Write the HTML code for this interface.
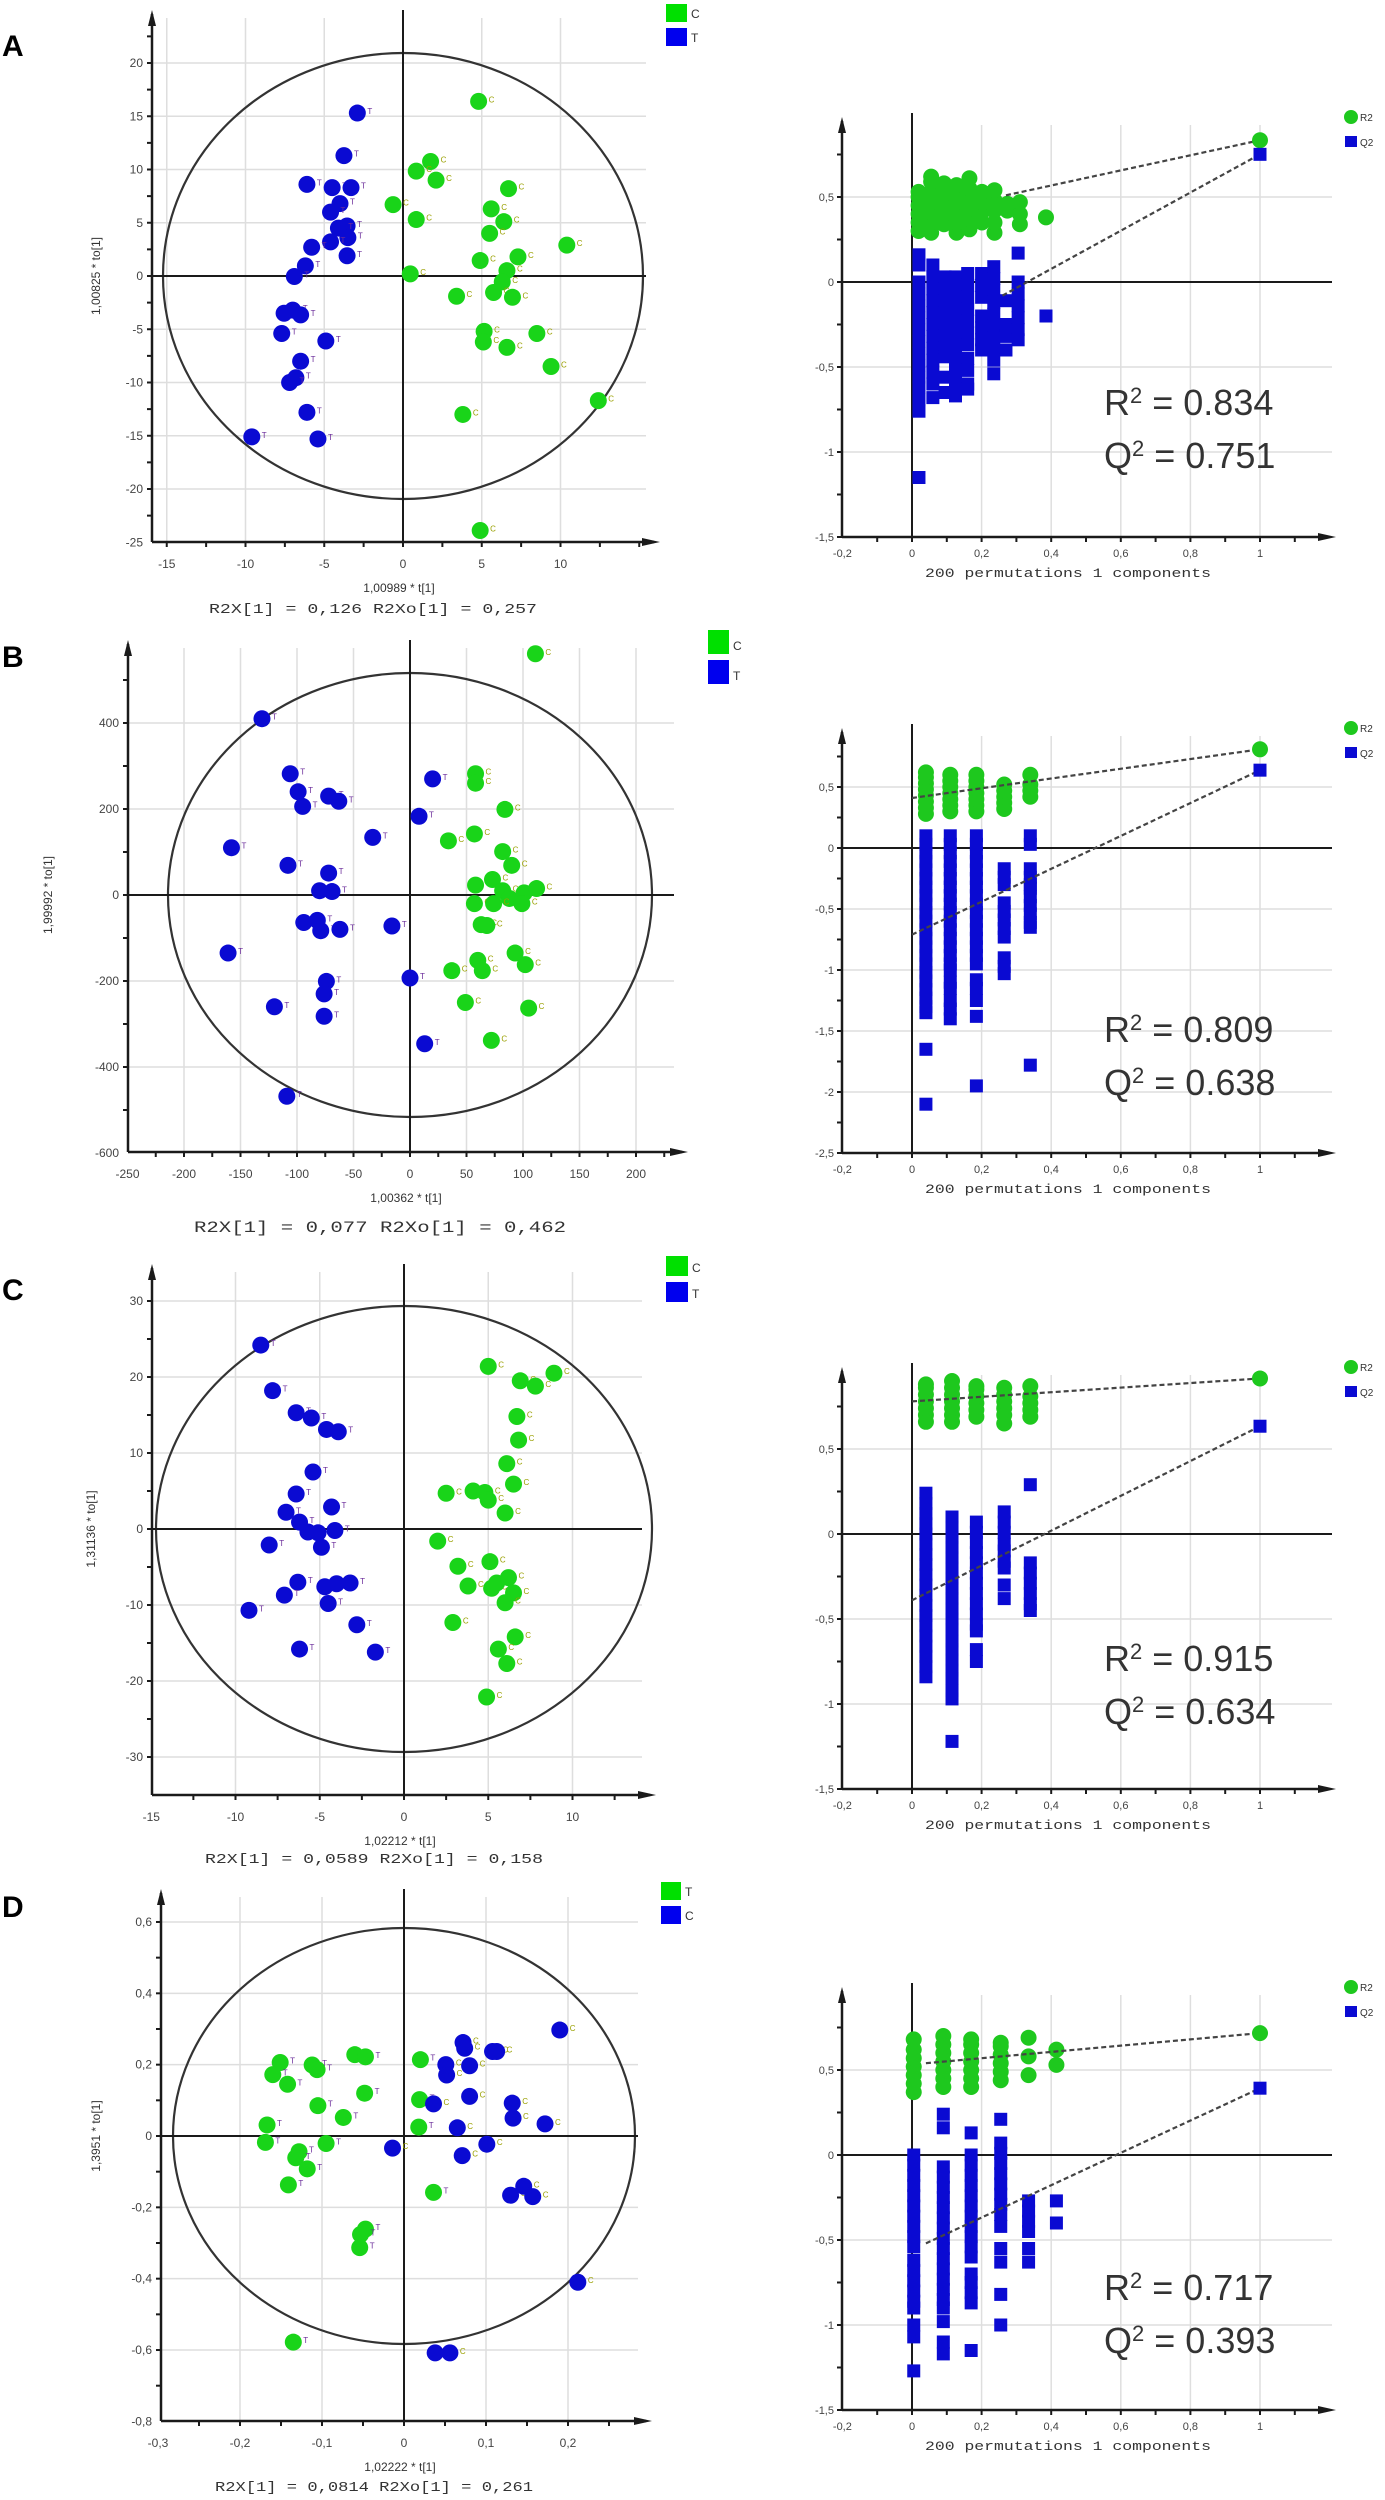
<!DOCTYPE html>
<html><head><meta charset="utf-8"><title>OPLS-DA score plots and permutation tests</title>
<style>
html,body{margin:0;padding:0;background:#fff;}
svg{display:block;font-family:"Liberation Sans",sans-serif;}
</style></head>
<body>
<svg id="fig" width="1385" height="2500" viewBox="0 0 1385 2500" xmlns="http://www.w3.org/2000/svg"></svg>
<script>
// ---------- Panel A score data ----------
const aGreenX=[4.8,1.75,0.84,2.1,-0.63,0.84,6.7,5.6,6.4,5.5,10.4,4.9,7.3,6.6,0.46,6.3,3.4,5.75,6.95,5.15,5.1,8.5,6.6,9.4,12.4,3.8,4.9];
const aGreenY=[16.4,10.75,9.85,9.0,6.7,5.3,8.2,6.3,5.1,4.0,2.9,1.45,1.8,0.5,0.2,-0.55,-1.9,-1.55,-2.0,-5.2,-6.2,-5.4,-6.7,-8.5,-11.7,-13.0,-23.9];
const aBlueX=[-2.9,-3.75,-6.1,-4.5,-3.3,-4.0,-4.6,-3.55,-4.1,-3.5,-4.6,-5.8,-3.55,-6.2,-6.9,-7.55,-7.0,-6.5,-7.7,-4.9,-6.5,-6.8,-7.2,-6.1,-9.6,-5.4];
const aBlueY=[15.3,11.3,8.6,8.3,8.3,6.8,6.0,4.7,4.5,3.6,3.2,2.7,1.9,0.95,-0.05,-3.5,-3.2,-3.65,-5.4,-6.1,-8.0,-9.55,-10.0,-12.8,-15.1,-15.3];
const aXTicks=[-15,-10,-5,0,5,10];
const aYTicks=[-25,-20,-15,-10,-5,0,5,10,15,20];
// ---------- Panel B score data ----------
const bBlueX=[-131,-106,-99,-95,-72,-63,-158,-108,-72,-80,-69,-33,8,20,-94,-82,-79,-62,-16,-161,0,-74,-76,-120,-76,13,-109];
const bBlueY=[410,282,240,206,230,218,110,69,51,10,8,134,183,270,-64,-59,-83,-80,-72,-135,-193,-201,-230,-260,-282,-346,-468];
const bGreenX=[111,58,58,84,57,34,82,90,58,73,82,88,101,112,57,74,99,63,68,60,93,102,64,37,49,105,72];
const bGreenY=[561,282,260,199,142,126,101,69,23,36,10,-8,5,15,-20,-20,-20,-69,-71,-152,-135,-162,-176,-176,-250,-263,-338];
const bXTicks=[-250,-200,-150,-100,-50,0,50,100,150,200];
const bYTicks=[-600,-400,-200,0,200,400];
// ---------- Panel C score data ----------
const cBlueX=[-8.5,-7.8,-6.4,-5.5,-4.6,-3.9,-5.4,-6.4,-4.3,-7.0,-6.2,-5.7,-5.1,-4.1,-8.0,-4.9,-6.3,-4.7,-4.0,-3.2,-7.1,-4.5,-9.2,-2.8,-6.2,-1.7];
const cBlueY=[24.2,18.2,15.3,14.6,13.1,12.8,7.5,4.6,2.9,2.2,0.9,-0.4,-0.5,-0.2,-2.1,-2.4,-7.0,-7.6,-7.2,-7.1,-8.7,-9.8,-10.7,-12.6,-15.8,-16.2];
const cGreenX=[5.0,8.9,6.9,7.8,6.7,6.8,6.1,6.5,2.5,4.1,4.8,5.0,6.0,2.0,3.2,5.1,3.8,5.2,5.5,6.2,6.5,6.0,2.9,6.6,5.6,6.1,4.9];
const cGreenY=[21.4,20.5,19.5,18.8,14.8,11.7,8.6,5.9,4.7,5.0,4.8,3.8,2.1,-1.6,-4.9,-4.3,-7.5,-7.8,-7.1,-6.4,-8.4,-9.7,-12.3,-14.2,-15.8,-17.7,-22.1];
const cXTicks=[-15,-10,-5,0,5,10];
const cYTicks=[-30,-20,-10,0,10,20,30];
// ---------- Panel D score data ----------
const dGreenX=[-0.151,-0.160,-0.142,-0.112,-0.106,-0.060,-0.047,0.020,-0.048,-0.105,-0.074,0.019,-0.167,0.018,-0.169,-0.095,-0.128,-0.132,-0.118,-0.141,0.036,-0.047,-0.053,-0.054,-0.135];
const dGreenY=[0.206,0.172,0.145,0.199,0.186,0.228,0.222,0.214,0.120,0.085,0.052,0.102,0.031,0.025,-0.018,-0.021,-0.044,-0.061,-0.092,-0.137,-0.158,-0.261,-0.276,-0.313,-0.578];
const dBlueX=[0.190,0.072,0.074,0.108,0.113,0.051,0.052,0.080,0.080,0.036,0.132,0.133,0.172,0.065,-0.014,0.101,0.071,0.130,0.146,0.157,0.212,0.038,0.056];
const dBlueY=[0.297,0.262,0.246,0.237,0.237,0.200,0.171,0.197,0.111,0.090,0.092,0.050,0.034,0.023,-0.034,-0.023,-0.055,-0.166,-0.141,-0.170,-0.410,-0.608,-0.608];
const dXTicks=[-0.3,-0.2,-0.1,0,0.1,0.2];
const dYTicks=[-0.8,-0.6,-0.4,-0.2,0,0.2,0.4,0.6];

// ---------- Permutation data ----------
const permXTicks=[-0.2,0,0.2,0.4,0.6,0.8,1];
const aPermR2Cols=[0.019,0.055,0.092,0.128,0.165,0.201,0.237,0.274,0.31,0.385];
const aPermR2Vals=[[0.30,0.35,0.40,0.45,0.50,0.53],[0.29,0.35,0.41,0.47,0.53,0.59,0.62],[0.34,0.40,0.46,0.52,0.58],[0.29,0.35,0.41,0.47,0.53,0.57],[0.31,0.37,0.43,0.49,0.55,0.61],[0.35,0.41,0.47,0.53],[0.29,0.35,0.42,0.48,0.54],[0.42,0.46],[0.34,0.40,0.47],[0.38]];
const aPermQ2Cols=[0.02,0.06,0.095,0.125,0.16,0.2,0.235,0.27,0.305,0.385];
const aPermQ2Vals=[[0.16,0.1,0,-0.07,-0.14,-0.21,-0.28,-0.35,-0.42,-0.49,-0.56,-0.62,-0.69,-0.76,-1.15],[0.1,0.03,-0.04,-0.11,-0.18,-0.25,-0.32,-0.39,-0.46,-0.53,-0.6,-0.68],[0.03,-0.04,-0.11,-0.18,-0.25,-0.32,-0.39,-0.44,-0.56,-0.65],[0.03,-0.04,-0.11,-0.18,-0.25,-0.32,-0.39,-0.46,-0.53,-0.6,-0.67],[0.05,-0.02,-0.09,-0.16,-0.23,-0.3,-0.37,-0.45,-0.52,-0.6,-0.63],[0.05,-0.02,-0.09,-0.2,-0.27,-0.34,-0.4],[0.09,0.02,-0.05,-0.12,-0.19,-0.26,-0.33,-0.4,-0.46,-0.54],[-0.11,-0.25,-0.32,-0.4],[0.17,0,-0.07,-0.14,-0.21,-0.28,-0.34],[-0.2]];
const aOrig=[0.834,0.751];
const aLineR2=[0.27,0.51];
const aLineQ2=[0.26,-0.08];
const aYTicksP=[-1.5,-1,-0.5,0,0.5];

const bPermCols=[0.04,0.11,0.185,0.265,0.34];
const bPermR2Vals=[[0.28,0.33,0.38,0.43,0.48,0.53,0.58,0.62],[0.3,0.35,0.4,0.45,0.5,0.55,0.6],[0.3,0.35,0.4,0.45,0.5,0.55,0.6],[0.32,0.37,0.42,0.47,0.52],[0.42,0.47,0.52,0.6]];
const bPermQ2Vals=[[0.1,0.03,-0.04,-0.11,-0.18,-0.25,-0.32,-0.39,-0.46,-0.53,-0.6,-0.67,-0.74,-0.81,-0.88,-0.95,-1.02,-1.09,-1.16,-1.23,-1.3,-1.35,-1.65,-2.1],[0.1,0.03,-0.04,-0.11,-0.18,-0.25,-0.32,-0.39,-0.46,-0.53,-0.6,-0.67,-0.74,-0.81,-0.88,-0.95,-1.0,-1.1,-1.15,-1.25,-1.32,-1.4],[0.1,0.03,-0.04,-0.11,-0.18,-0.25,-0.32,-0.39,-0.46,-0.53,-0.6,-0.67,-0.74,-0.81,-0.88,-0.95,-1.08,-1.15,-1.25,-1.38,-1.95],[-0.17,-0.24,-0.3,-0.45,-0.52,-0.59,-0.66,-0.73,-0.9,-0.97,-1.03],[0.1,0.03,-0.17,-0.24,-0.3,-0.33,-0.4,-0.47,-0.54,-0.61,-0.65,-1.78]];
const bOrig=[0.809,0.638];
const bLineR2=[0,0.41];
const bLineQ2=[0,-0.71];
const bYTicksP=[-2.5,-2,-1.5,-1,-0.5,0,0.5];

const cPermCols=[0.04,0.115,0.185,0.265,0.34];
const cPermR2Vals=[[0.66,0.7,0.74,0.78,0.82,0.86,0.88],[0.66,0.7,0.74,0.78,0.82,0.86,0.9],[0.69,0.73,0.77,0.81,0.85,0.87],[0.65,0.7,0.74,0.78,0.82,0.86],[0.69,0.73,0.77,0.81,0.87]];
const cPermQ2Vals=[[0.24,0.18,0.12,0.06,0,-0.06,-0.12,-0.18,-0.24,-0.3,-0.36,-0.42,-0.48,-0.54,-0.6,-0.66,-0.72,-0.78,-0.84],[0.1,0.04,-0.02,-0.08,-0.14,-0.2,-0.26,-0.32,-0.38,-0.44,-0.5,-0.56,-0.63,-0.68,-0.74,-0.8,-0.85,-0.92,-0.97,-1.22],[0.07,0.01,-0.05,-0.11,-0.17,-0.23,-0.29,-0.35,-0.41,-0.47,-0.53,-0.57,-0.68,-0.75],[0.13,0.07,0.01,-0.06,-0.1,-0.16,-0.2,-0.3,-0.38],[0.29,-0.17,-0.23,-0.29,-0.35,-0.41,-0.45]];
const cOrig=[0.915,0.634];
const cLineR2=[0,0.78];
const cLineQ2=[0,-0.39];
const cYTicksP=[-1.5,-1,-0.5,0,0.5];

const dPermCols=[0.005,0.09,0.17,0.255,0.335,0.415];
const dPermR2Vals=[[0.37,0.42,0.47,0.52,0.57,0.62,0.68],[0.4,0.45,0.5,0.55,0.6,0.65,0.7],[0.4,0.45,0.5,0.55,0.6,0.65,0.68],[0.44,0.49,0.54,0.59,0.64,0.66],[0.47,0.58,0.69],[0.53,0.62]];
const dPermQ2Vals=[[0,-0.06,-0.12,-0.18,-0.24,-0.3,-0.36,-0.42,-0.48,-0.54,-0.62,-0.68,-0.74,-0.8,-0.86,-0.9,-1.0,-1.07,-1.27],[0.24,0.16,-0.07,-0.13,-0.19,-0.25,-0.31,-0.37,-0.43,-0.49,-0.55,-0.61,-0.67,-0.73,-0.79,-0.85,-0.9,-0.98,-1.1,-1.17],[0.13,0,-0.06,-0.12,-0.18,-0.24,-0.3,-0.36,-0.42,-0.48,-0.54,-0.6,-0.7,-0.75,-0.81,-0.87,-1.15],[0.21,0.07,0.01,-0.05,-0.11,-0.17,-0.23,-0.29,-0.35,-0.42,-0.55,-0.63,-0.82,-1.0],[-0.27,-0.33,-0.39,-0.45,-0.55,-0.63],[-0.27,-0.4]];
const dOrig=[0.717,0.393];
const dLineR2=[0.04,0.54];
const dLineQ2=[0.04,-0.52];
const dYTicksP=[-1.5,-1,-0.5,0,0.5];

const NS="http://www.w3.org/2000/svg";
const svg=document.getElementById('fig');
function mk(tag,attrs,parent){const e=document.createElementNS(NS,tag);for(const k in attrs)e.setAttribute(k,attrs[k]);(parent||svg).appendChild(e);return e;}
function fmt(v){let s=(Math.round(v*100)/100).toString();return s.replace('.',',');}
const GREEN="#19d419",BLUE="#0a0ad2",GRID="#dedede",AX="#1a1a1a";

function scorePanel(p){
  const g=mk('g',{});
  
  
  const sx=v=>p.x0+v*p.xs, sy=v=>p.y0-v*p.ys;
  const right=p.right-14;
  // grid
  p.xt.forEach(t=>{if(Math.abs(t)<1e-9)return;const x=sx(t);if(x<=p.ax+2)return;
    const l=mk('line',{x1:x,y1:p.top+8,x2:x,y2:p.bot,stroke:GRID,'stroke-width':1.5},g);
    
    });
  p.yt.forEach(t=>{if(Math.abs(t)<1e-9)return;const y=sy(t);if(y>=p.bot-2)return;
    const l=mk('line',{x1:p.ax,y1:y,x2:right,y2:y,stroke:GRID,'stroke-width':1.5},g);
    
    });
  // ellipse
  const el=mk('ellipse',{cx:p.x0,cy:p.y0,rx:p.rx,ry:p.ry,fill:'none',stroke:'#333','stroke-width':2.2},g);
  
  
  // zero lines
  const zv=mk('line',{x1:p.x0,y1:p.top,x2:p.x0,y2:p.bot,stroke:AX,'stroke-width':2},g);
  
  
  const zh=mk('line',{x1:p.ax,y1:p.y0,x2:right,y2:p.y0,stroke:AX,'stroke-width':2},g);
  
  
  // axes
  const ya=mk('line',{x1:p.ax,y1:p.top+4,x2:p.ax,y2:p.bot,stroke:AX,'stroke-width':2.5},g);
  
  
  mk('polygon',{points:`${p.ax-4},${p.top+16} ${p.ax+4},${p.top+16} ${p.ax},${p.top}`,fill:AX},g);
  const xa=mk('line',{x1:p.ax,y1:p.bot,x2:p.right-6,y2:p.bot,stroke:AX,'stroke-width':2.5},g);
  
  
  mk('polygon',{points:`${p.right-18},${p.bot-4} ${p.right-18},${p.bot+4} ${p.right},${p.bot}`,fill:AX},g);
  // ticks
  const xstep=p.xt[1]-p.xt[0], ystep=p.yt[1]-p.yt[0];
  for(let v=p.xt[0]-xstep;v<=p.xt[p.xt.length-1]+xstep;v+=xstep/2){const x=sx(v);if(x<p.ax+2||x>p.right-20)continue;
    mk('line',{x1:x,y1:p.bot,x2:x,y2:p.bot+5,stroke:AX,'stroke-width':2},g);}
  for(let v=p.yt[0];v<=p.yt[p.yt.length-1]+ystep;v+=ystep/2){const y=sy(v);if(y<p.top+18||y>p.bot)continue;
    mk('line',{x1:p.ax-5,y1:y,x2:p.ax,y2:y,stroke:AX,'stroke-width':2},g);}
  p.xt.forEach(t=>{const x=sx(t);if(x<p.ax-10)return;
    const tx=mk('text',{x:x,y:p.bot+26,'font-size':12,'text-anchor':'middle',fill:'#444'},g);tx.textContent=fmt(t);
    
    });
  p.yt.forEach(t=>{const y=sy(t);if(y<p.top+10)return;
    const tx=mk('text',{x:p.ax-9,y:y+4,'font-size':12,'text-anchor':'end',fill:'#444'},g);tx.textContent=fmt(t);
    
    });
  // points
  const draw=(xs,ys,col,lab,nm)=>{xs.forEach((v,i)=>{const cx=sx(v),cy=sy(ys[i]);
    const c=mk('circle',{cx:cx,cy:cy,r:8.5,fill:col},g);
    
    
    const t=mk('text',{x:cx+10,y:cy+1,'font-size':8,fill:lab==='T'?'#6a2c9a':'#9aa000'},g);t.textContent=lab;});};
  draw(p.gx,p.gy,GREEN,p.gl,'score-point-green');
  draw(p.bx,p.by,BLUE,p.bl,'score-point-blue');
  // titles
  const yt=mk('text',{x:p.ylx,y:p.y0,'font-size':12,'text-anchor':'middle',fill:'#333',transform:`rotate(-90 ${p.ylx} ${p.y0})`},g);
  yt.textContent=p.ytitle;
  
  
  const xt=mk('text',{x:p.x0-4,y:p.bot+50,'font-size':12,'text-anchor':'middle',fill:'#333'},g);
  xt.textContent=p.xtitle;
  
  
  const r2=mk('text',{x:p.x0-30,y:p.bot+p.r2dy,'font-size':p.r2fs,'text-anchor':'middle','font-family':'Liberation Mono, monospace',fill:'#333',textLength:p.r2w,lengthAdjust:'spacingAndGlyphs'},g);
  r2.textContent=p.r2text;
  
  
  // legend
  const lg=mk('g',{},g);
  
  
  mk('rect',{x:p.lx,y:p.ly,width:p.lw,height:p.lh,fill:p.l1c},lg);
  mk('rect',{x:p.lx,y:p.ly+p.lh+6,width:p.lw,height:p.lh,fill:p.l2c},lg);
  const t1=mk('text',{x:p.lx+p.lw+4,y:p.ly+p.lh-4,'font-size':12,fill:'#333'},lg);t1.textContent=p.l1;
  const t2=mk('text',{x:p.lx+p.lw+4,y:p.ly+2*p.lh+2,'font-size':12,fill:'#333'},lg);t2.textContent=p.l2;
  // panel letter
  const L=mk('text',{x:2,y:p.letterY,'font-size':30,'font-weight':'bold',fill:'#000'},g);
  L.textContent=p.letter;
  
  
}

function permPanel(p){
  const g=mk('g',{});
  
  
  const X0=912, XS=348, AXX=842, RIGHT=1332;
  const sx=v=>X0+v*XS, sy=v=>p.y0-v*p.ys;
  const bot=sy(p.yt[0]);
  [0.2,0.4,0.6,0.8,1].forEach(t=>{const l=mk('line',{x1:sx(t),y1:p.top+8,x2:sx(t),y2:bot,stroke:GRID,'stroke-width':1.5},g);
    
    });
  p.yt.forEach(t=>{if(t===0||t===p.yt[0])return;const l=mk('line',{x1:AXX,y1:sy(t),x2:RIGHT,y2:sy(t),stroke:GRID,'stroke-width':1.5},g);
    
    });
  const zv=mk('line',{x1:sx(0),y1:p.top-4,x2:sx(0),y2:bot,stroke:AX,'stroke-width':2},g);
  
  
  const zh=mk('line',{x1:AXX,y1:sy(0),x2:RIGHT,y2:sy(0),stroke:AX,'stroke-width':2},g);
  
  
  // Q2 squares
  const sq=(x,y,nm)=>{const r=mk('rect',{x:sx(x)-6.5,y:sy(y)-6.5,width:13,height:13,fill:BLUE},g);
    
    };
  p.qc.forEach((x,i)=>p.qv[i].forEach(v=>sq(x,v,'q2-permutation-point')));
  const ci=(x,y,nm)=>{const c=mk('circle',{cx:sx(x),cy:sy(y),r:8,fill:'#1ec81e'},g);
    
    };
  p.rc.forEach((x,i)=>p.rv[i].forEach(v=>ci(x,v,'r2-permutation-point')));
  // regression lines
  const l1=mk('line',{x1:sx(p.lr[0]),y1:sy(p.lr[1]),x2:sx(1),y2:sy(p.orig[0]),stroke:'#444','stroke-width':2.2,'stroke-dasharray':'5,3'},g);
  
  
  const l2=mk('line',{x1:sx(p.lq[0]),y1:sy(p.lq[1]),x2:sx(1),y2:sy(p.orig[1]),stroke:'#444','stroke-width':2.2,'stroke-dasharray':'5,3'},g);
  
  
  ci(1,p.orig[0],'r2-original-point');
  sq(1,p.orig[1],'q2-original-point');
  // axes
  const ya=mk('line',{x1:AXX,y1:p.top+4,x2:AXX,y2:bot,stroke:AX,'stroke-width':2.5},g);
  
  
  mk('polygon',{points:`${AXX-4},${p.top+16} ${AXX+4},${p.top+16} ${AXX},${p.top}`,fill:AX},g);
  const xa=mk('line',{x1:AXX,y1:bot,x2:1326,y2:bot,stroke:AX,'stroke-width':2.5},g);
  
  
  mk('polygon',{points:`1318,${bot-4} 1318,${bot+4} 1336,${bot}`,fill:AX},g);
  for(let v=-0.1;v<=1.15;v+=0.1){mk('line',{x1:sx(v),y1:bot,x2:sx(v),y2:bot+5,stroke:AX,'stroke-width':2},g);}
  const ys2=(p.yt[1]-p.yt[0])/2;
  for(let v=p.yt[0];v<=1.0;v+=ys2){const y=sy(v);if(y<p.top+18)continue;mk('line',{x1:AXX-5,y1:y,x2:AXX,y2:y,stroke:AX,'stroke-width':2},g);}
  permXTicks.forEach(t=>{const tx=mk('text',{x:sx(t),y:bot+20,'font-size':11,'text-anchor':'middle',fill:'#444'},g);tx.textContent=fmt(t);
    
    });
  p.yt.forEach(t=>{const tx=mk('text',{x:AXX-8,y:sy(t)+4,'font-size':11,'text-anchor':'end',fill:'#444'},g);tx.textContent=fmt(t);
    
    });
  const xt=mk('text',{x:1068,y:bot+40,'font-size':13,'text-anchor':'middle','font-family':'Liberation Mono, monospace',fill:'#333',textLength:286,lengthAdjust:'spacingAndGlyphs'},g);
  xt.textContent='200 permutations 1 components';
  
  
  // stats text
  const st=mk('text',{x:1104,y:p.r2y+13,'font-size':36,fill:'#333'},g);
  st.innerHTML='R<tspan baseline-shift="super" font-size="22">2</tspan> = '+p.r2s;
  
  
  const qt=mk('text',{x:1104,y:p.r2y+66,'font-size':36,fill:'#333'},g);
  qt.innerHTML='Q<tspan baseline-shift="super" font-size="22">2</tspan> = '+p.q2s;
  
  
  // legend
  const lg=mk('g',{},g);
  
  
  mk('circle',{cx:1351,cy:p.top,r:7,fill:'#1ec81e'},lg);
  mk('rect',{x:1345,y:p.top+19,width:12,height:11,fill:BLUE},lg);
  const a=mk('text',{x:1360,y:p.top+4,'font-size':10,fill:'#333'},lg);a.textContent='R2';
  const b=mk('text',{x:1360,y:p.top+29,'font-size':10,fill:'#333'},lg);b.textContent='Q2';
}

scorePanel({name:'panel-a-score-plot',letter:'A',letterY:56,ax:152,x0:403,xs:15.75,y0:276,ys:10.65,top:10,bot:542,right:660,rx:240,ry:223,
  xt:aXTicks,yt:aYTicks,gx:aGreenX,gy:aGreenY,bx:aBlueX,by:aBlueY,gl:'C',bl:'T',ylx:100,
  ytitle:'1,00825 * to[1]',xtitle:'1,00989 * t[1]',r2text:'R2X[1] = 0,126  R2Xo[1] = 0,257',r2dy:71,r2fs:14,r2w:328,
  lx:666,ly:4,lw:21,lh:18,l1:'C',l2:'T',l1c:'#00e000',l2c:'#0000ee'});
scorePanel({name:'panel-b-score-plot',letter:'B',letterY:667,ax:128,x0:410,xs:1.13,y0:895,ys:0.43,top:640,bot:1152,right:688,rx:242,ry:222,
  xt:bXTicks,yt:bYTicks,gx:bGreenX,gy:bGreenY,bx:bBlueX,by:bBlueY,gl:'C',bl:'T',ylx:52,
  ytitle:'1,99992 * to[1]',xtitle:'1,00362 * t[1]',r2text:'R2X[1] = 0,077  R2Xo[1] = 0,462',r2dy:80,r2fs:16,r2w:372,
  lx:708,ly:630,lw:21,lh:24,l1:'C',l2:'T',l1c:'#00e000',l2c:'#0000ee'});
scorePanel({name:'panel-c-score-plot',letter:'C',letterY:1300,ax:152,x0:404,xs:16.85,y0:1529,ys:7.6,top:1264,bot:1795,right:656,rx:248,ry:223,
  xt:cXTicks,yt:cYTicks,gx:cGreenX,gy:cGreenY,bx:cBlueX,by:cBlueY,gl:'C',bl:'T',ylx:95,
  ytitle:'1,31136 * to[1]',xtitle:'1,02212 * t[1]',r2text:'R2X[1] = 0,0589  R2Xo[1] = 0,158',r2dy:68,r2fs:14,r2w:338,
  lx:666,ly:1256,lw:22,lh:20,l1:'C',l2:'T',l1c:'#00e000',l2c:'#0000ee'});
scorePanel({name:'panel-d-score-plot',letter:'D',letterY:1917,ax:161,x0:404,xs:820,y0:2136,ys:356.7,top:1889,bot:2421,right:652,rx:231,ry:208,
  xt:dXTicks,yt:dYTicks,gx:dGreenX,gy:dGreenY,bx:dBlueX,by:dBlueY,gl:'T',bl:'C',ylx:100,
  ytitle:'1,3951 * to[1]',xtitle:'1,02222 * t[1]',r2text:'R2X[1] = 0,0814 R2Xo[1] = 0,261',r2dy:70,r2fs:14,r2w:318,
  lx:661,ly:1882,lw:20,lh:18,l1:'T',l2:'C',l1c:'#00e000',l2c:'#0000ee'});

permPanel({name:'panel-a-permutation-plot',y0:282,ys:170,top:117,yt:aYTicksP,rc:aPermR2Cols,rv:aPermR2Vals,qc:aPermQ2Cols,qv:aPermQ2Vals,orig:aOrig,lr:aLineR2,lq:aLineQ2,r2y:402,r2s:'0.834',q2s:'0.751'});
permPanel({name:'panel-b-permutation-plot',y0:848,ys:122,top:728,yt:bYTicksP,rc:bPermCols,rv:bPermR2Vals,qc:bPermCols,qv:bPermQ2Vals,orig:bOrig,lr:bLineR2,lq:bLineQ2,r2y:1029,r2s:'0.809',q2s:'0.638'});
permPanel({name:'panel-c-permutation-plot',y0:1534,ys:170,top:1367,yt:cYTicksP,rc:cPermCols,rv:cPermR2Vals,qc:cPermCols,qv:cPermQ2Vals,orig:cOrig,lr:cLineR2,lq:cLineQ2,r2y:1658,r2s:'0.915',q2s:'0.634'});
permPanel({name:'panel-d-permutation-plot',y0:2155,ys:170,top:1987,yt:dYTicksP,rc:dPermCols,rv:dPermR2Vals,qc:dPermCols,qv:dPermQ2Vals,orig:dOrig,lr:dLineR2,lq:dLineQ2,r2y:2287,r2s:'0.717',q2s:'0.393'});
</script>
</body></html>
